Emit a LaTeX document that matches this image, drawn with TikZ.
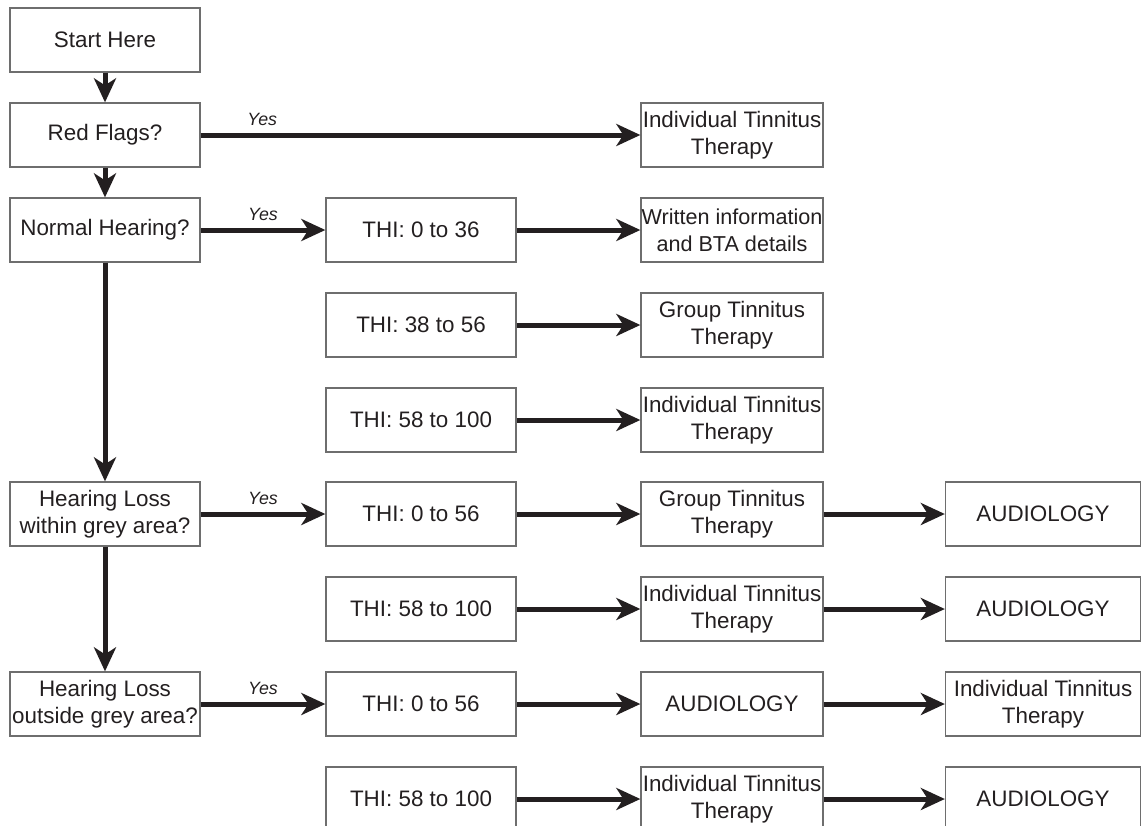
\documentclass[tikz,border=0pt]{standalone}
\usepackage{fontspec}
\setmainfont{Liberation Sans}
\usetikzlibrary{arrows.meta}
\definecolor{ink}{HTML}{231F20}
\definecolor{boxline}{HTML}{6E6E6E}
\begin{document}
\begin{tikzpicture}[x=1pt,y=-1pt,
  box/.style={draw=boxline,line width=1.3pt,rectangle,minimum height=64pt,inner sep=1pt,align=center,text=ink,font=\fontsize{22.4}{27}\selectfont},
  wA/.style={box,minimum width=190pt},
  wC/.style={box,minimum width=182pt},
  wD/.style={box,minimum width=195pt},
  tight/.style={inner xsep=0pt,font=\fontsize{21.6}{27}\selectfont},
  arr/.style={draw=ink,line width=5pt,-{Stealth[length=24pt,width=22pt,inset=7pt]}},
  yes/.style={font=\fontsize{17.8}{20}\selectfont\itshape,text=ink,inner sep=0pt}]
\useasboundingbox (0,0) rectangle (1142,825);
% column 1
\node[wA] (start) at (105,40) {Start Here};
\node[wA] (red) at (105,135) {Red Flags?};
\node[wA] (normal) at (105,230) {Normal Hearing?};
\node[wA] (within) at (105,514) {Hearing Loss\\within grey area?};
\node[wA] (outside) at (105,704) {Hearing Loss\\outside grey area?};
% column 2
\node[wA] (t1) at (421,230) {THI: 0 to 36};
\node[wA] (t2) at (421,325) {THI: 38 to 56};
\node[wA] (t3) at (421,420) {THI: 58 to 100};
\node[wA] (t4) at (421,514) {THI: 0 to 56};
\node[wA] (t5) at (421,609) {THI: 58 to 100};
\node[wA] (t6) at (421,704) {THI: 0 to 56};
\node[wA] (t7) at (421,799) {THI: 58 to 100};
% column 3
\node[wC] (c0) at (732,135) {Individual Tinnitus\\Therapy};
\node[wC,tight] (c1) at (732,230) {Written information\\and BTA details};
\node[wC] (c2) at (732,325) {Group Tinnitus\\Therapy};
\node[wC] (c3) at (732,420) {Individual Tinnitus\\Therapy};
\node[wC] (c4) at (732,514) {Group Tinnitus\\Therapy};
\node[wC] (c5) at (732,609) {Individual Tinnitus\\Therapy};
\node[wC] (c6) at (732,704) {AUDIOLOGY};
\node[wC] (c7) at (732,799) {Individual Tinnitus\\Therapy};
% column 4
\node[wD] (d4) at (1043,514) {AUDIOLOGY};
\node[wD] (d5) at (1043,609) {AUDIOLOGY};
\node[wD] (d6) at (1043,704) {Individual Tinnitus\\Therapy};
\node[wD] (d7) at (1043,799) {AUDIOLOGY};
% vertical arrows
\draw[arr] (start) -- (red);
\draw[arr] (red) -- (normal);
\draw[arr] (normal) -- (within);
\draw[arr] (within) -- (outside);
% yes arrows
\draw[arr] (red) -- node[yes,above=7pt,pos=0.14] (y1) {Yes} (c0);
\draw[arr] (normal) -- node[yes,above=7pt,pos=0.5] (y2) {Yes} (t1);
\draw[arr] (within) -- node[yes,above=7pt,pos=0.5] (y3) {Yes} (t4);
\draw[arr] (outside) -- node[yes,above=7pt,pos=0.5] (y4) {Yes} (t6);
% column 2 -> 3
\draw[arr] (t1) -- (c1);
\draw[arr] (t2) -- (c2);
\draw[arr] (t3) -- (c3);
\draw[arr] (t4) -- (c4);
\draw[arr] (t5) -- (c5);
\draw[arr] (t6) -- (c6);
\draw[arr] (t7) -- (c7);
% column 3 -> 4
\draw[arr] (c4) -- (d4);
\draw[arr] (c5) -- (d5);
\draw[arr] (c6) -- (d6);
\draw[arr] (c7) -- (d7);
\end{tikzpicture}
\end{document}
